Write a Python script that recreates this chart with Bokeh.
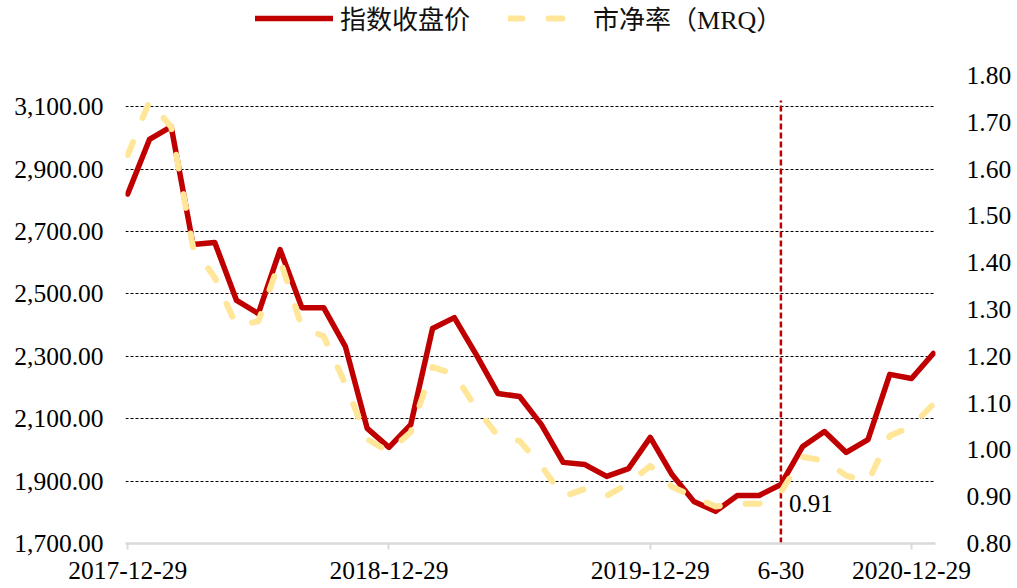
from bokeh.plotting import figure
from bokeh.models import (Range1d, LinearAxis, FixedTicker, NumeralTickFormatter,
                          Legend, LegendItem, Label, ColumnDataSource)
from bokeh.embed import file_html
from bokeh.resources import INLINE

# ---------------- data ----------------
months = ["2017-12", "2018-01", "2018-02", "2018-03", "2018-04", "2018-05", "2018-06",
          "2018-07", "2018-08", "2018-09", "2018-10", "2018-11", "2018-12", "2019-01",
          "2019-02", "2019-03", "2019-04", "2019-05", "2019-06", "2019-07", "2019-08",
          "2019-09", "2019-10", "2019-11", "2019-12", "2020-01", "2020-02", "2020-03",
          "2020-04", "2020-05", "2020-06", "2020-07", "2020-08", "2020-09", "2020-10",
          "2020-11", "2020-12", "2021-01"]
close = [2820, 2995, 3036, 2658, 2665, 2479, 2437, 2642, 2456, 2456, 2331, 2069, 2008,
         2081, 2389, 2424, 2306, 2181, 2171, 2081, 1960, 1953, 1915, 1940, 2040, 1921,
         1835, 1803, 1854, 1854, 1889, 2011, 2059, 1992, 2033, 2242, 2229, 2309]
pb = [1.63, 1.745, 1.69, 1.434, 1.368, 1.265, 1.275, 1.406, 1.262, 1.243, 1.14, 1.023,
      0.996, 1.038, 1.177, 1.162, 1.09, 1.03, 1.019, 0.966, 0.90, 0.917, 0.902, 0.928,
      0.966, 0.921, 0.90, 0.879, 0.885, 0.885, 0.91, 0.985, 0.977, 0.945, 0.932, 1.03,
      1.05, 1.098]
x_tick_idx = [0, 12, 24, 30, 36]
x_tick_labels = ["2017-12-29", "2018-12-29", "2019-12-29", "6-30", "2020-12-29"]
x_tick_marks = [0, 12, 24, 36]
left_ticks = [1700, 1900, 2100, 2300, 2500, 2700, 2900, 3100]
right_ticks = [0.8, 0.9, 1.0, 1.1, 1.2, 1.3, 1.4, 1.5, 1.6, 1.7, 1.8]
left_range = (1700, 3200)
right_range = (0.8, 1.8)
marker_idx = 30
marker_top = 3120
marker_text = "0.91"
name_close = "指数收盘价"
name_pb = "市净率（MRQ）"

RED = "#C00000"
YELLOW = "#FFE699"
SERIF = "Liberation Serif"
FS = "25.5px"

# layout (pixels)
W, H = 1017, 588
AX_TOP = 75          # where the top of the value axes sits
AX_H = 468           # height of the value axes
FRAME_H = AX_TOP + AX_H
B_LEFT, B_RIGHT = 125, 82
B_BOTTOM = H - FRAME_H
LEG_TOP, LEG_H = 4, 32

# the frame reaches the top of the canvas (so the legend is not clipped);
# extend both value ranges upward by the same pixel amount
ext = FRAME_H / AX_H
y_left = Range1d(left_range[0], left_range[0] + (left_range[1] - left_range[0]) * ext)
y_right = Range1d(right_range[0], right_range[0] + (right_range[1] - right_range[0]) * ext)

idx = list(range(len(months)))
src = ColumnDataSource(dict(x=idx, close=close, pb=pb, month=months))

p = figure(width=W, height=H, output_backend="svg", toolbar_location=None,
           x_range=Range1d(-0.1, len(months) - 1 + 0.1),
           y_range=y_left,
           min_border_left=B_LEFT, min_border_right=B_RIGHT, min_border_top=0,
           min_border_bottom=B_BOTTOM)
p.title = None
p.extra_y_ranges = {"pb": y_right}
p.outline_line_color = None
p.background_fill_color = "white"
p.border_fill_color = "white"

# x axis
xa = p.xaxis[0]
xa.ticker = FixedTicker(ticks=x_tick_idx, minor_ticks=x_tick_marks)
xa.major_label_overrides = {i: l for i, l in zip(x_tick_idx, x_tick_labels)}
xa.axis_line_color = "#D9D9D9"
xa.axis_line_width = 2.5
xa.major_tick_line_color = None
xa.major_tick_out = 6
xa.major_tick_in = 0
xa.minor_tick_line_color = "#D9D9D9"
xa.minor_tick_line_width = 2
xa.minor_tick_out = 6
xa.minor_tick_in = 0
xa.major_label_standoff = 12
xa.major_label_text_font = SERIF
xa.major_label_text_font_size = FS
xa.major_label_text_color = "black"

# left axis
ya = p.yaxis[0]
ya.ticker = FixedTicker(ticks=left_ticks)
ya.formatter = NumeralTickFormatter(format="0,0.00")
ya.axis_line_color = None
ya.major_tick_line_color = None
ya.minor_tick_line_color = None
ya.major_tick_out = 0
ya.major_tick_in = 0
ya.major_label_standoff = 22
ya.major_label_text_font = SERIF
ya.major_label_text_font_size = FS
ya.major_label_text_color = "black"

# right axis
ra = LinearAxis(y_range_name="pb", ticker=FixedTicker(ticks=right_ticks),
                formatter=NumeralTickFormatter(format="0.00"))
ra.axis_line_color = None
ra.major_tick_line_color = None
ra.minor_tick_line_color = None
ra.major_tick_out = 0
ra.major_tick_in = 0
ra.major_label_standoff = 31
ra.major_label_text_font = SERIF
ra.major_label_text_font_size = FS
ra.major_label_text_color = "black"
p.add_layout(ra, "right")

# grid
p.xgrid.visible = False
p.ygrid.ticker = FixedTicker(ticks=left_ticks[1:])
p.ygrid.grid_line_color = "black"
p.ygrid.grid_line_dash = "3 2"
p.ygrid.grid_line_width = 1

# vertical marker line
p.segment(x0=[marker_idx], y0=[left_range[0]], x1=[marker_idx], y1=[marker_top],
          line_color=RED, line_width=2.5, line_dash="6 3")

# series
r_close = p.line("x", "close", source=src, line_color=RED, line_width=5.5,
                 line_join="round", line_cap="round")
r_pb = p.line("x", "pb", source=src, y_range_name="pb", line_color=YELLOW,
              line_width=6, line_dash="14 26", line_cap="round", line_join="round")

p.add_layout(Label(x=marker_idx, y=pb[marker_idx], y_range_name="pb", text=marker_text,
                   x_offset=8, y_offset=-11, text_baseline="middle", text_align="left",
                   text_font=SERIF, text_font_size="25px", text_color="black"))

legend = Legend(items=[LegendItem(label=name_close, renderers=[r_close]),
                       LegendItem(label=name_pb, renderers=[r_pb])],
                orientation="horizontal", location=(130, FRAME_H - LEG_TOP - LEG_H),
                glyph_width=78, glyph_height=20, label_standoff=7, spacing=38,
                padding=0, margin=0, border_line_color=None,
                background_fill_alpha=0,
                label_text_font="'Liberation Serif', 'Noto Sans CJK SC'",
                label_text_font_size="26px", label_text_color="#111111")
p.add_layout(legend, "center")

open("out.html", "w").write(file_html(p, INLINE))
